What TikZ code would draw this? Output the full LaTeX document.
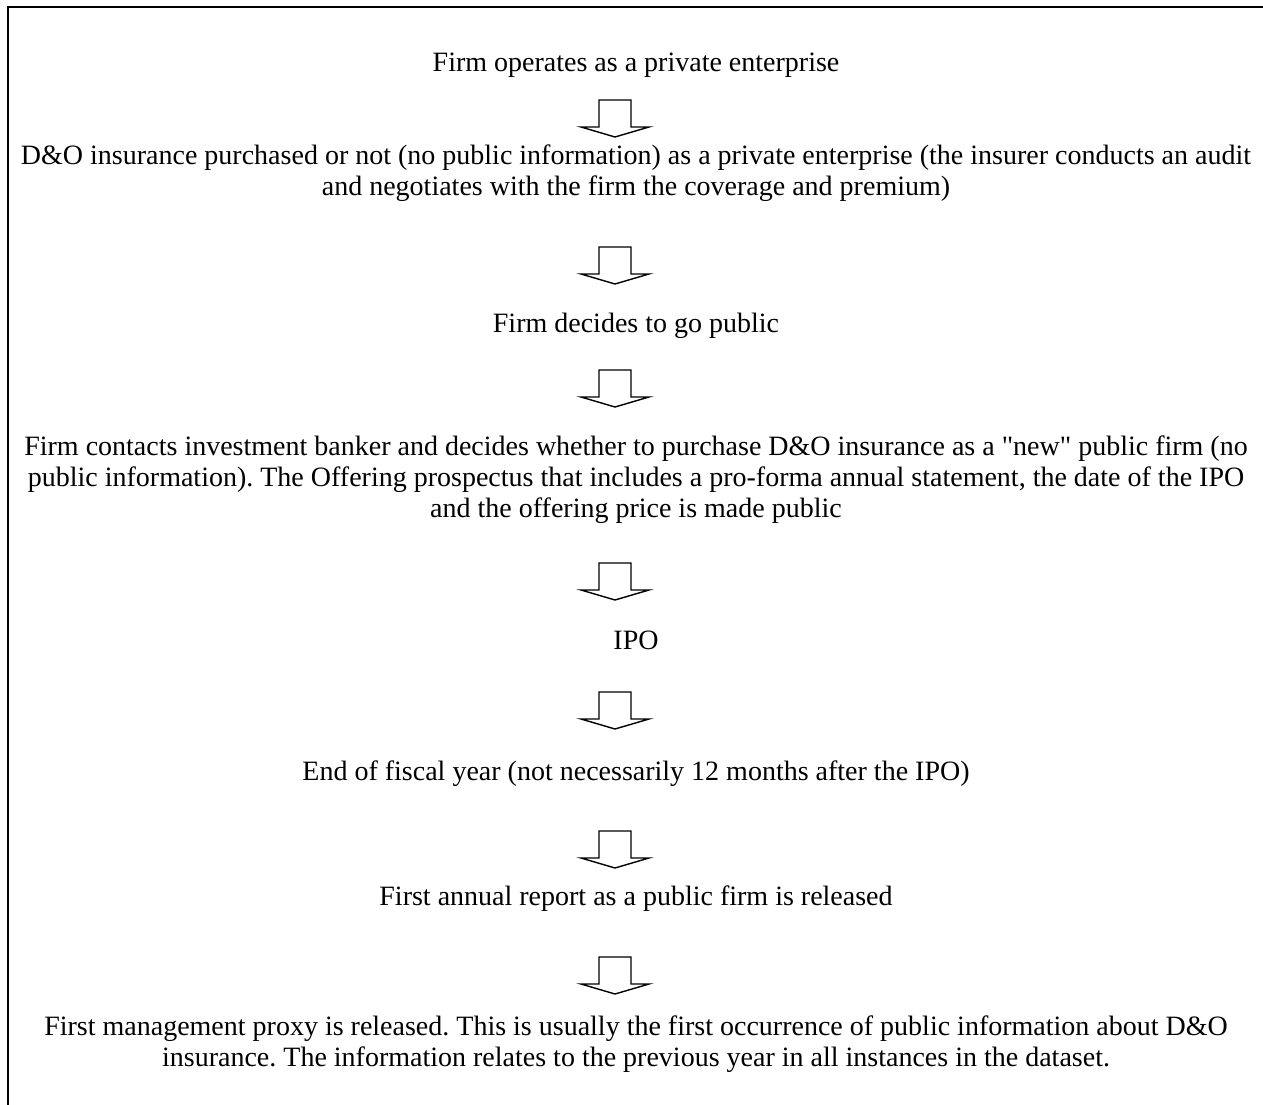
\documentclass[tikz,border=0pt]{standalone}
\usepackage{fontspec}
\setmainfont{Liberation Serif}
\usepackage{tikz}
\frenchspacing

\begin{document}
\begin{tikzpicture}[x=1pt,y=-1pt]%
  \tikzstyle{stage}=[align=center,inner sep=0,anchor=base,font=\fontsize{28}{31}\selectfont]
  \tikzset{darrow/.pic={\draw[line width=1.4pt,line join=miter]
      (-16,0) -- (-16,27) -- (-34,27) -- (0,37) -- (34,27) -- (16,27) -- (16,0) -- cycle;}}
  \useasboundingbox (0,0) rectangle (1263,1105);
  \draw[line width=2pt] (8,1105) -- (8,7) -- (1263,7);
  \node(s1)[stage] at (636,72) {Firm operates as a private enterprise};
  \node(s2)[stage] at (636,195) {D\&O insurance purchased or not (no public information) as a private enterprise (the insurer conducts an audit\\
    and negotiates with the firm the coverage and premium)};
  \node(s3)[stage] at (636,332) {Firm decides to go public};
  \node(s4)[stage] at (636,517) {Firm contacts investment banker and decides whether to purchase D\&O insurance as a \textquotedbl new\textquotedbl{} public firm (no\\
    public information). The Offering prospectus that includes a pro-forma annual statement, the date of the IPO\\
    and the offering price is made public};
  \node(s5)[stage] at (636,649) {IPO};
  \node(s6)[stage] at (636,780) {End of fiscal year (not necessarily 12 months after the IPO)};
  \node(s7)[stage] at (636,905) {First annual report as a public firm is released};
  \node(s8)[stage] at (636,1066) {First management proxy is released. This is usually the first occurrence of public information about D\&O\\
    insurance. The information relates to the previous year in all instances in the dataset.};
  % arrows between the stages
  \pic at (615,100) {darrow};
  \pic at (615,247) {darrow};
  \pic at (615,370) {darrow};
  \pic at (615,563) {darrow};
  \pic at (615,692) {darrow};
  \pic at (615,831) {darrow};
  \pic at (615,957) {darrow};
\end{tikzpicture}
\end{document}
